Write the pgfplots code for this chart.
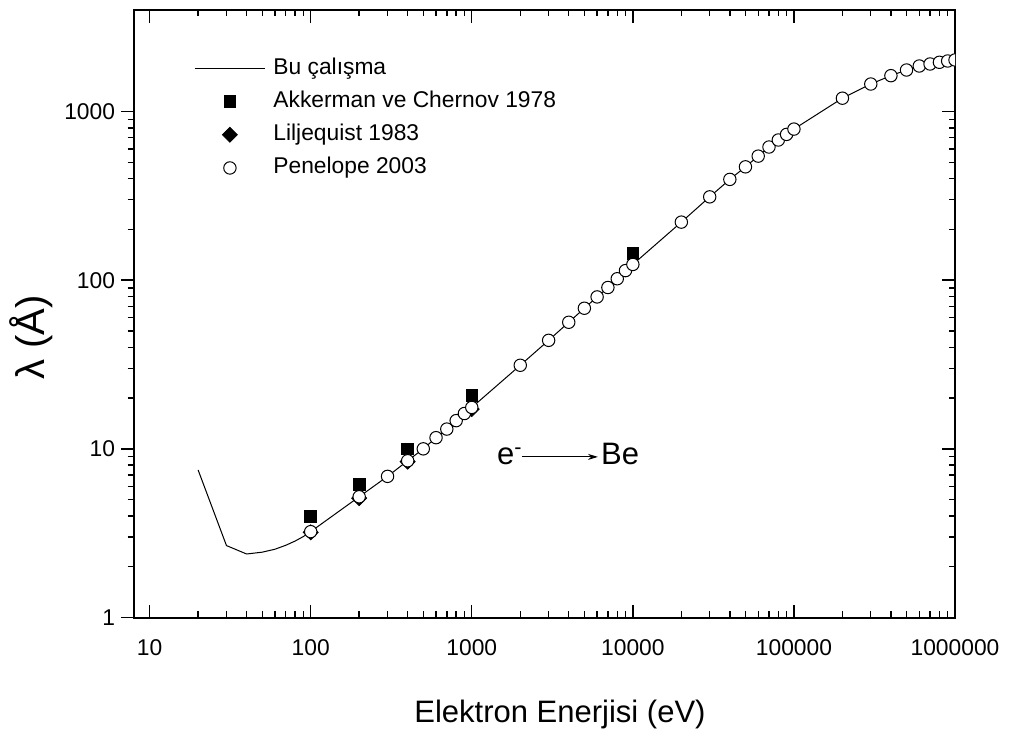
\documentclass[border=0pt]{standalone}
\usepackage{fontspec}
\setmainfont{Liberation Sans}
\usepackage{pgfplots}
\usepackage{pgfplotstable}
\pgfplotsset{compat=1.18}
\usetikzlibrary{arrows.meta}

% mean free path of electrons in Be (Angstrom) vs. energy (eV)
\pgfplotstableread{
E lam
20 7.5
30 2.67
40 2.38
50 2.44
60 2.54
70 2.68
80 2.84
90 3.02
100 3.23
200 5.2
300 6.87
400 8.5
500 10.0
600 11.65
700 13.1
800 14.7
900 16.2
1000 17.6
2000 31.3
3000 44.0
4000 56.3
5000 68.2
6000 79.6
7000 90.5
8000 102
9000 114
10000 124
20000 221
30000 312
40000 396
50000 470
60000 544
70000 616
80000 678
90000 732
100000 787
200000 1200
300000 1456
400000 1632
500000 1763
600000 1862
700000 1914
800000 1959
900000 1994
1000000 2022
}\bucalisma

\pgfplotstableread{
E lam
100 3.99
200 6.16
400 10.0
1000 20.8
10000 144
}\akkerman

\pgfplotstableread{
E lam
100 3.2
200 5.1
400 8.4
1000 17.2
}\liljequist

\pgfplotstableread{
E lam
100 3.23
200 5.2
300 6.87
400 8.5
500 10.0
600 11.65
700 13.1
800 14.7
900 16.2
1000 17.6
2000 31.3
3000 44.0
4000 56.3
5000 68.2
6000 79.6
7000 90.5
8000 102
9000 114
10000 124
20000 221
30000 312
40000 396
50000 470
60000 544
70000 616
80000 678
90000 732
100000 787
200000 1200
300000 1456
400000 1632
500000 1763
600000 1862
700000 1914
800000 1959
900000 1994
1000000 2022
}\penelope

\newcommand{\ticksize}{\fontsize{11.4}{13}\selectfont}

\begin{document}
\begin{tikzpicture}
\begin{axis}[name=ax,
  scale only axis, width=410.5pt, height=303.75pt,
  xmode=log, ymode=log,
  xmin=8, xmax=1000000, ymin=1, ymax=4000,
  xtick={10,100,1000,10000,100000,1000000},
  ytick={1,10,100,1000},
  major tick length=6.5pt, minor tick length=3.25pt,
  every tick/.append style={black, line width=0.7pt},
  axis line style={line width=1pt},
  tick label style={font=\ticksize},
  tick align=inside, xtick pos=both, ytick pos=right,
  xticklabels={10,100,1000,10000,100000,1000000},
  yticklabels={},
  xticklabel style={yshift=-7.5pt},
  clip marker paths=true,
  legend cell align=left,
  legend style={draw=none, fill=none, inner sep=0pt,
    at={(axis description cs:0.0731,0.9227)}, anchor=north west,
    row sep=5.6pt, column sep=4pt, font=\ticksize,
    nodes={inner sep=0pt, text height=8.5pt, text depth=2.5pt}},
]
\addplot[black, line width=0.5pt, no marks,
  legend image code/.code={\draw[black, line width=0.5pt] (0pt,0pt) -- (35pt,0pt);}]
  table[x=E, y=lam] {\bucalisma};
\addlegendentry{Bu çalışma}

\addplot[only marks, mark=square*, mark size=2.9pt, mark options={black, fill=black},
  legend image code/.code={\draw[mark repeat=2, mark phase=2] plot coordinates {(0pt,0pt) (17.5pt,0pt) (35pt,0pt)};}]
  table[x=E, y=lam] {\akkerman};
\addlegendentry{Akkerman ve Chernov 1978}

\addplot[only marks, mark=square*, mark size=2.65pt, mark options={black, fill=black, rotate=45},
  legend image code/.code={\draw[mark repeat=2, mark phase=2] plot coordinates {(0pt,0pt) (17.5pt,0pt) (35pt,0pt)};}]
  table[x=E, y=lam] {\liljequist};
\addlegendentry{Liljequist 1983}

\addplot[only marks, mark=*, mark size=3.1pt, mark options={draw=black, fill=white, line width=0.5pt},
  legend image code/.code={\draw[mark repeat=2, mark phase=2] plot coordinates {(0pt,0pt) (17.5pt,0pt) (35pt,0pt)};}]
  table[x=E, y=lam] {\penelope};
\addlegendentry{Penelope 2003}

% e- -> Be annotation
\node[anchor=base west, inner sep=0pt, font=\fontsize{15.5}{18}\selectfont] at (axis cs:1430,8.04) {e\textsuperscript{-}};
\draw[black, line width=0.5pt, -{Stealth[length=5pt,width=3pt]}] (axis cs:2046,8.96) -- (axis cs:6070,8.96);
\node[anchor=base west, inner sep=0pt, font=\fontsize{15.5}{18}\selectfont] at (axis cs:6325,8.04) {Be};
\end{axis}

% left axis with outward ticks and labels
\begin{axis}[
  scale only axis, width=410.5pt, height=303.75pt,
  xmode=log, ymode=log,
  xmin=8, xmax=1000000, ymin=1, ymax=4000,
  ytick={1,10,100,1000},
  yticklabels={1,10,100,1000},
  major tick length=6.5pt, minor tick length=3.25pt,
  every tick/.append style={black, line width=0.7pt},
  tick label style={font=\ticksize},
  yticklabel style={xshift=0.5pt},
  axis x line=none, axis y line*=left,
  axis line style={-, line width=1pt},
  tick align=outside,
]
\end{axis}

% axis titles
\node[anchor=base, font=\fontsize{15.5}{18}\selectfont] at ([shift={(213pt,-52.25pt)}]ax.south west) {Elektron Enerjisi (eV)};
\node[rotate=90, anchor=center, font=\fontsize{20}{24}\selectfont] at ([shift={(-51.5pt,140pt)}]ax.south west) {λ (Å)};

\pgfresetboundingbox
\path ([shift={(-67pt,-58.25pt)}]ax.south west) rectangle ([shift={(27.5pt,5pt)}]ax.north east);
\end{tikzpicture}
\end{document}
